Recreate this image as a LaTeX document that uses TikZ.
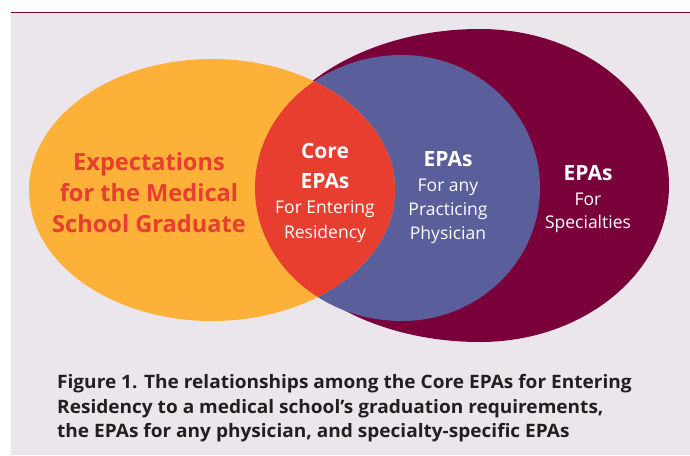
\documentclass[tikz,border=0pt]{standalone}
\usepackage{fontspec}
\setmainfont{Open Sans}
\newfontfamily\capfont[FakeStretch=1.03]{Open Sans}
\definecolor{bg}{RGB}{235,230,236}
\definecolor{epamaroon}{RGB}{122,0,58}
\definecolor{epablue}{RGB}{90,94,155}
\definecolor{epayellow}{RGB}{253,177,57}
\definecolor{epared}{RGB}{232,62,47}
\definecolor{captext}{RGB}{35,31,32}
\begin{document}
\begin{tikzpicture}[x=1pt,y=-1pt,
  lbl/.style={anchor=base, inner sep=0pt, text=white},
  bigb/.style={lbl, font=\fontsize{21}{21}\selectfont\bfseries},
  reg/.style={lbl, font=\fontsize{17.5}{17.5}\selectfont},
  expb/.style={anchor=base, inner sep=0pt, text=epared, font=\fontsize{23.6}{23.6}\selectfont\bfseries},
  captxt/.style={anchor=base west, inner sep=0pt, text=captext, font=\capfont\fontsize{18.5}{18.5}\selectfont\bfseries}]
\useasboundingbox (0,0) rectangle (690,455);
\fill[white] (0,0) rectangle (690,455);
\fill[bg] (11,12.5) rectangle (690,455);
\draw[epamaroon, line width=1.3pt] (11,12.3) -- (690,12.3);
% maroon egg
\begin{scope}
  \clip (480,0) rectangle (690,455);
  \fill[epamaroon] (480,185.5) ellipse [x radius=189pt, y radius=156.5pt];
\end{scope}
\begin{scope}
  \clip (0,0) rectangle (480.5,455);
  \fill[epamaroon] (480,185.5) ellipse [x radius=225pt, y radius=156.5pt];
\end{scope}
% blue egg
\begin{scope}
  \clip (402,0) rectangle (690,455);
  \fill[epablue] (402,188) ellipse [x radius=138pt, y radius=133pt];
\end{scope}
\begin{scope}
  \clip (0,0) rectangle (402.5,455);
  \fill[epablue] (402,188) ellipse [x radius=147pt, y radius=133pt];
\end{scope}
% yellow
\fill[epayellow] (212,190) ellipse [x radius=183pt, y radius=131pt];
% red intersection
\begin{scope}
  \clip (402,188) ellipse [x radius=147pt, y radius=133pt];
  \fill[epared] (212,190) ellipse [x radius=183pt, y radius=131pt];
\end{scope}
% texts
\node[expb] (e1) at (149,170) {Expectations};
\node[expb] (e2) at (149,201) {for the Medical};
\node[expb] (e3) at (149,232) {School Graduate};
\node[bigb] (c1) at (325,158) {Core};
\node[bigb] (c2) at (325,188) {EPAs};
\node[reg] (c3) at (325,213) {For Entering};
\node[reg] (c4) at (325,238) {Residency};
\node[bigb] (b1) at (448,166) {EPAs};
\node[reg] (b2) at (448,191) {For any};
\node[reg] (b3) at (448,215) {Practicing};
\node[reg] (b4) at (448,239) {Physician};
\node[bigb] (m1) at (588,180) {EPAs};
\node[reg] (m2) at (588,205) {For};
\node[reg] (m3) at (588,228) {Specialties};
\node[captxt] (f1) at (57,388) {Figure 1. The relationships among the Core EPAs for Entering};
\node[captxt] (f2) at (57,413) {Residency to a medical school’s graduation requirements,};
\node[captxt] (f3) at (57,437) {the EPAs for any physician, and specialty-specific EPAs};
\end{tikzpicture}
\end{document}
